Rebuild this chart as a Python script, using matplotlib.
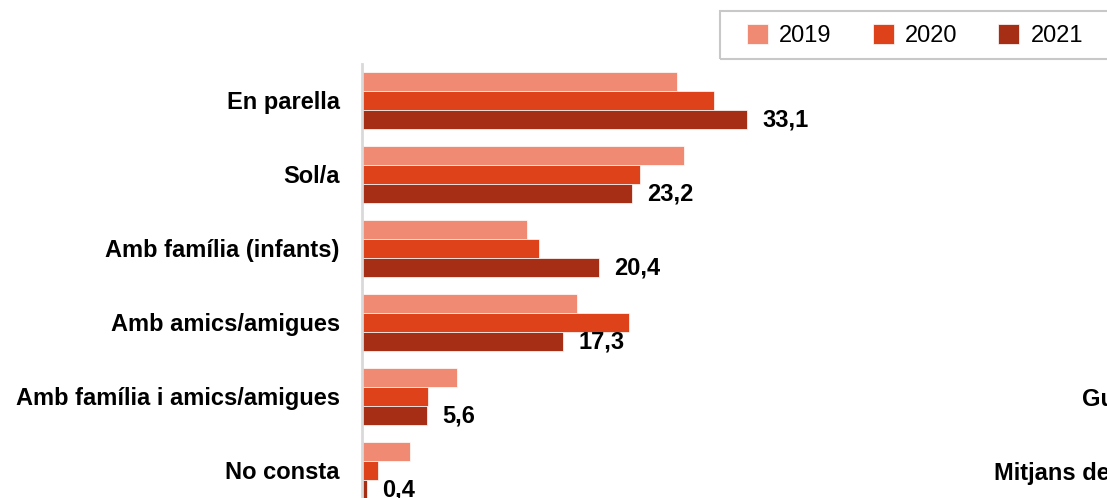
import numpy as np
import matplotlib.pyplot as plt
from matplotlib.patches import Rectangle

plt.rcParams['font.family'] = ['Liberation Sans', 'DejaVu Sans']

# dades
categories = ['En parella', 'Sol/a', 'Amb família (infants)', 'Amb amics/amigues',
              'Amb família i amics/amigues', 'No consta']
years = ['2019', '2020', '2021']
v2019 = [27.1, 27.7, 14.2, 18.5, 8.2, 4.1]
v2020 = [30.3, 23.9, 15.2, 23.0, 5.7, 1.4]
v2021 = [33.1, 23.2, 20.4, 17.3, 5.6, 0.4]
labels2021 = ['33,1', '23,2', '20,4', '17,3', '5,6', '0,4']

colors = ['#f08a72', '#de421b', '#a52e14']

W, H = 1107, 498
fig = plt.figure(figsize=(W / 100, H / 100), dpi=100)

# eix: comença a x=362 px, part superior a y=64 px, surt per baix
px_per_unit = 11.63
pitch = 74.0
top_units = -0.493
bot_units = 5.5
ax_h = (bot_units - top_units) * pitch
ax = fig.add_axes([362 / W, (H - 64 - ax_h) / H, (W - 362) / W, ax_h / H])

y = np.arange(len(categories))
h = 0.257
bars = []
for i, vals in enumerate([v2019, v2020, v2021]):
    b = ax.barh(y + (i - 1) * h, vals, height=h, color=colors[i],
                edgecolor='white', linewidth=0.5, label=years[i])
    bars.append(b)

for yi, v, lab in zip(y, v2021, labels2021):
    ax.annotate(lab, (v, yi + h), xytext=(11, 0), textcoords='offset points',
                va='center', ha='left', fontsize=17, fontweight='bold')

ax.set_xlim(0, (W - 362) / px_per_unit)
ax.set_ylim(bot_units, top_units)
ax.set_yticks(y)
ax.set_yticklabels(categories, fontsize=17, fontweight='bold')
ax.tick_params(axis='y', length=0, pad=16)
ax.set_xticks([])
for s in ['top', 'right', 'bottom']:
    ax.spines[s].set_visible(False)
ax.spines['left'].set_color('#d9d9d9')
ax.spines['left'].set_linewidth(2)

# llegenda
fig.patches.append(Rectangle((720 / W, 1 - 59 / H), 420 / W, 48 / H,
                             transform=fig.transFigure, fill=False,
                             edgecolor='#c8c8c8', linewidth=1.5))
fig.legend(handles=bars, labels=years, loc='center left',
           bbox_to_anchor=(747 / W, 1 - 35.5 / H), ncol=3, frameon=False,
           fontsize=17, handlelength=0.89, handleheight=0.89,
           handletextpad=0.47, columnspacing=1.74, borderpad=0,
           borderaxespad=0)

# textos retallats d'un altre gràfic
fig.text(1082 / W, 1 - 399 / H, 'Gu', fontsize=17, fontweight='bold',
         va='center', ha='left')
fig.text(994 / W, 1 - 473 / H, 'Mitjans de', fontsize=17, fontweight='bold',
         va='center', ha='left')

fig.savefig('out.png', dpi=100)
